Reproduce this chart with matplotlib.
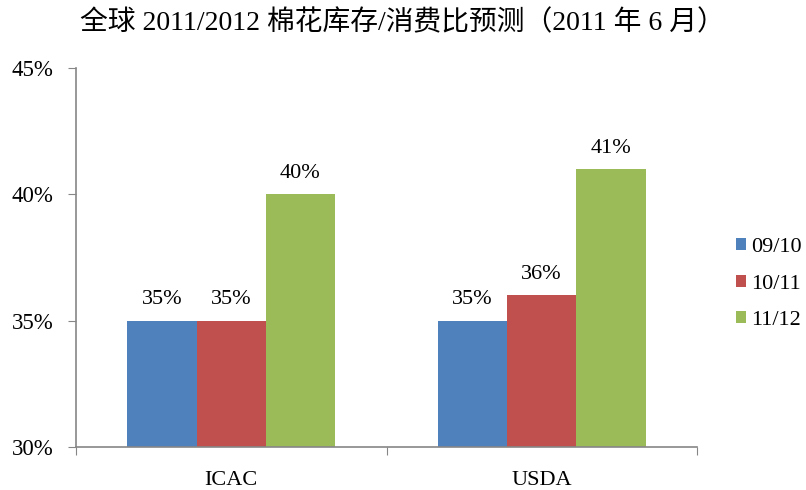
import matplotlib
matplotlib.use("Agg")
import matplotlib.pyplot as plt
import numpy as np

plt.rcParams['font.family'] = ['Liberation Serif', 'Noto Sans CJK SC']

title = "全球 2011/2012 棉花库存/消费比预测（2011 年 6 月）"
categories = ["ICAC", "USDA"]
series_names = ["09/10", "10/11", "11/12"]
values_0910 = [35, 35]
values_1011 = [35, 36]
values_1112 = [40, 41]
colors = ["#4F81BD", "#C0504D", "#9BBB59"]
yticks = [30, 35, 40, 45]

fig = plt.figure(figsize=(8.06, 4.9), dpi=100)
ax = fig.add_axes([76/806, 1-447/490, (697-76)/806, (447-68)/490])

x = np.arange(len(categories))
w = 0.223
series = [values_0910, values_1011, values_1112]
for i, (vals, name, c) in enumerate(zip(series, series_names, colors)):
    pos = x + (i - 1) * w
    ax.bar(pos, [v - 30 for v in vals], bottom=30, width=w, color=c, label=name)
    for p, v in zip(pos, vals):
        ax.text(p, v + 0.45, f"{v}%", ha='center', va='bottom', fontsize=16)

ax.set_xlim(-0.5, 1.5)
ax.set_ylim(30, 45)
ax.set_yticks(yticks)
ax.set_yticklabels([f"{t}%" for t in yticks], fontsize=16.5)
ax.set_xticks([-0.5, 0.5, 1.5], minor=False)
ax.set_xticklabels([])
ax.set_xticks(x, minor=True)
ax.set_xticklabels(categories, minor=True, fontsize=16)
ax.tick_params(axis='x', which='minor', length=0, pad=17)
ax.tick_params(axis='x', which='major', length=5.8, color='#868686', direction='out')
ax.tick_params(axis='y', length=5.8, color='#868686', direction='out', pad=10.5)
for s in ['top', 'right']:
    ax.spines[s].set_visible(False)
for s in ['left', 'bottom']:
    ax.spines[s].set_color('#868686')
    ax.spines[s].set_linewidth(1.2)

leg = ax.legend(loc='center left', bbox_to_anchor=(1.031, 0.43), frameon=False,
                fontsize=16, handlelength=0.45, handleheight=0.45, handletextpad=0.22,
                labelspacing=0.78)

fig.text(402/806, 1-23/490, title, ha='center', va='center', fontsize=20)

fig.savefig("out.png", dpi=100)
